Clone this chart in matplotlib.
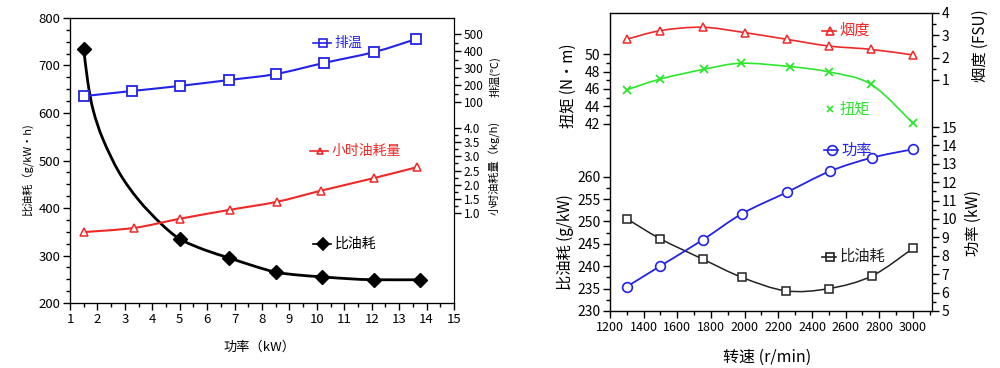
import numpy as np
import matplotlib
matplotlib.use('Agg')
import matplotlib.pyplot as plt
from matplotlib.path import Path
from matplotlib.patches import PathPatch
from matplotlib.ticker import MultipleLocator, FixedLocator

plt.rcParams['font.family'] = ['Liberation Sans Narrow', 'Noto Sans CJK SC', 'DejaVu Sans']
plt.rcParams['axes.unicode_minus'] = False

# ---- left panel data (x = 功率 kW) ----
sfc_x = [1.5, 5.0, 6.8, 8.5, 10.2, 12.1, 13.75]
sfc_y = [735, 335, 295, 265, 255, 249, 249]
# curve of 比油耗
sfc_curve_x = [1.5, 1.65, 1.85, 2.2, 2.8, 3.5, 4.3, 5.0, 5.9, 6.8, 7.7, 8.5, 9.3, 10.2, 11.2, 12.1, 13.75]
sfc_curve_y = [735, 665, 605, 545, 474, 417, 368, 335, 312, 295, 278, 265, 259, 255, 251, 249, 249]
temp_x = [1.5, 3.25, 5.0, 6.8, 8.5, 10.25, 12.1, 13.6]
temp_y = [135, 165, 195, 230, 265, 330, 395, 470]
fuel_x = [1.5, 3.35, 5.0, 6.85, 8.55, 10.15, 12.1, 13.65]
fuel_y = [0.33, 0.48, 0.80, 1.12, 1.40, 1.79, 2.24, 2.62]

# ---- right panel data (x = 转速 r/min) ----
smoke_x = [1300, 1500, 1750, 2000, 2250, 2500, 2750, 3000]
smoke_y = [2.82, 3.21, 3.36, 3.12, 2.82, 2.52, 2.37, 2.12]
torque_x = [1300, 1500, 1760, 1980, 2270, 2500, 2750, 3000]
torque_y = [45.9, 47.15, 48.27, 48.96, 48.57, 47.96, 46.54, 42.05]
power_x = [1300, 1500, 1750, 1985, 2250, 2505, 2755, 3000]
power_y = [6.32, 7.45, 8.86, 10.29, 11.45, 12.59, 13.33, 13.79]
bsfc_x = [1300, 1500, 1750, 1985, 2245, 2500, 2755, 3000]
bsfc_y = [250.6, 246.1, 241.6, 237.5, 234.5, 235.0, 237.8, 244.0]

BLUE = '#2323e6'
RED = '#f02828'
GREEN = '#2ee62e'


def smooth(ax, x, y, **kw):
    # Catmull-Rom curve drawn as bezier path through the points
    x = np.asarray(x, float)
    y = np.asarray(y, float)
    n = len(x)
    verts = [(x[0], y[0])]
    codes = [Path.MOVETO]
    for i in range(n - 1):
        x0, y0 = (x[i - 1], y[i - 1]) if i > 0 else (x[i], y[i])
        x3, y3 = (x[i + 2], y[i + 2]) if i + 2 < n else (x[i + 1], y[i + 1])
        c1 = (x[i] + (x[i + 1] - x0) / 6, y[i] + (y[i + 1] - y0) / 6)
        c2 = (x[i + 1] - (x3 - x[i]) / 6, y[i + 1] - (y3 - y[i]) / 6)
        verts += [c1, c2, (x[i + 1], y[i + 1])]
        codes += [Path.CURVE4] * 3
    ax.add_patch(PathPatch(Path(verts, codes), fill=False, **kw))


def key(ax, x, y, label, color, marker, ms, mfc='none', line=True, fs=10):
    if line:
        ax.plot([x - 0.025, x + 0.02], [y, y], color=color, lw=1.2, transform=ax.transAxes)
    ax.plot([x], [y], marker=marker, ms=ms, mfc=mfc, mec=color, mew=1.2,
            color=color, transform=ax.transAxes)
    ax.text(x + 0.03, y, label, color=color, fontsize=fs, va='center',
            transform=ax.transAxes, family=['Noto Sans CJK SC'])


def style_ticks(a, size):
    a.tick_params(which='major', direction='out', length=5, width=1, labelsize=size, pad=2)
    a.tick_params(which='minor', direction='out', length=3, width=1)


fig = plt.figure(figsize=(10, 3.68), dpi=100)

# ================= left panel =================
ax = fig.add_axes([0.070, 0.1766, 0.384, 0.7745])
ax.set_xlim(1, 15)
ax.set_ylim(200, 800)
ax.xaxis.set_major_locator(MultipleLocator(1))
ax.xaxis.set_minor_locator(MultipleLocator(0.5))
ax.yaxis.set_major_locator(MultipleLocator(100))
ax.yaxis.set_minor_locator(MultipleLocator(25))
style_ticks(ax, 9.5)
ax.tick_params(axis='y', which='both', right=False)

smooth(ax, sfc_curve_x, sfc_curve_y, color='black', lw=2.0, zorder=3)
ax.plot(sfc_x, sfc_y, ls='none', marker='D', ms=7, color='black', zorder=4)

ax_t = ax.twinx()
ax_t.set_ylim(-1083, 595)
ax_t.yaxis.set_major_locator(FixedLocator([100, 200, 300, 400, 500]))
ax_t.yaxis.set_minor_locator(FixedLocator([150, 250, 350, 450]))
style_ticks(ax_t, 8.5)
smooth(ax_t, temp_x, temp_y, color=BLUE, lw=1.5)
ax_t.plot(temp_x, temp_y, ls='none', marker='s', ms=6.5, mfc='white', mec=BLUE, mew=1.3)

ax_f = ax.twinx()
ax_f.set_ylim(-2.17, 7.88)
ax_f.yaxis.set_major_locator(FixedLocator([1.0, 1.5, 2.0, 2.5, 3.0, 3.5, 4.0]))
ax_f.yaxis.set_minor_locator(FixedLocator([1.25, 1.75, 2.25, 2.75, 3.25, 3.75]))
ax_f.yaxis.set_major_formatter(plt.FormatStrFormatter('%.1f'))
style_ticks(ax_f, 8.5)
smooth(ax_f, fuel_x, fuel_y, color=RED, lw=1.5)
ax_f.plot(fuel_x, fuel_y, ls='none', marker='^', ms=5.5, mfc='white', mec=RED, mew=1.1)
ax_t.spines['right'].set_visible(False)

key(ax, 0.659, 0.912, '排温', BLUE, 's', 5.5)
key(ax, 0.651, 0.533, '小时油耗量', RED, '^', 5)
key(ax, 0.659, 0.207, '比油耗', 'black', 'D', 6, mfc='black')

fig.text(0.028, 1 - 170 / 368, '比油耗（g/kW·h)', rotation=90, ha='center', va='center', fontsize=8,
         family=['Noto Sans CJK SC'])
fig.text(0.260, 1 - 347 / 368, '功率（kW）', ha='center', va='center', fontsize=9.5,
         family=['Noto Sans CJK SC'])
fig.text(0.495, 1 - 77 / 368, '排温(℃)', rotation=90, ha='center', va='center', fontsize=8,
         family=['Noto Sans CJK SC', 'DejaVu Sans'])
fig.text(0.495, 1 - 168 / 368, '小时油耗量（kg/h)', rotation=90, ha='center', va='center', fontsize=8,
         family=['Noto Sans CJK SC'])

# ================= right panel =================
bx = fig.add_axes([0.610, 0.155, 0.322, 0.8098])
bx.set_xlim(1200, 3113)
bx.set_ylim(230, 296.6)
bx.xaxis.set_major_locator(MultipleLocator(200))
bx.xaxis.set_minor_locator(MultipleLocator(100))
bx.yaxis.set_major_locator(FixedLocator([230, 235, 240, 245, 250, 255, 260]))
bx.yaxis.set_minor_locator(FixedLocator(np.arange(230, 261, 2.5)))
style_ticks(bx, 10)
bx.tick_params(axis='x', labelsize=9)
bx.tick_params(axis='y', which='both', right=False)
smooth(bx, bsfc_x, bsfc_y, color='#222222', lw=1.1)
bx.plot(bsfc_x, bsfc_y, ls='none', marker='s', ms=6, mfc='white', mec='#222222', mew=1.1)

bt = bx.twinx()
bt.set_ylim(20.4, 54.76)
bt.yaxis.set_ticks_position('left')
bt.yaxis.set_major_locator(FixedLocator([42, 44, 46, 48, 50]))
bt.yaxis.set_minor_locator(FixedLocator([43, 45, 47, 49]))
style_ticks(bt, 10)
smooth(bt, torque_x, torque_y, color=GREEN, lw=1.2)
bt.plot(torque_x, torque_y, ls='none', marker='x', ms=6, mec=GREEN, mew=1.3)

bs = bx.twinx()
bs.set_ylim(-9.34, 4)
bs.yaxis.set_major_locator(FixedLocator([1, 2, 3, 4]))
bs.yaxis.set_minor_locator(FixedLocator([1.5, 2.5, 3.5]))
style_ticks(bs, 10)
smooth(bs, smoke_x, smoke_y, color=RED, lw=1.2)
bs.plot(smoke_x, smoke_y, ls='none', marker='^', ms=6, mfc='white', mec=RED, mew=1.1)

bp = bx.twinx()
bp.set_ylim(5, 21.2)
bp.yaxis.set_major_locator(FixedLocator(range(5, 16)))
bp.yaxis.set_minor_locator(FixedLocator(np.arange(5.5, 15, 1.0)))
style_ticks(bp, 10)
smooth(bp, power_x, power_y, color=BLUE, lw=1.3)
bp.plot(power_x, power_y, ls='none', marker='o', ms=7, mfc='white', mec=BLUE, mew=1.2)
bs.spines['right'].set_visible(False)

key(bx, 0.683, 0.941, '烟度', RED, '^', 5.5, fs=11)
key(bx, 0.683, 0.677, '扭矩', GREEN, 'x', 5, line=False, fs=11)
key(bx, 0.689, 0.540, '功率', BLUE, 'o', 7, fs=11)
key(bx, 0.683, 0.182, '比油耗', '#222222', 's', 5.5, fs=11)

fig.text(0.568, 1 - 86 / 368, '扭矩 (N·m)', rotation=90, ha='center', va='center', fontsize=11,
         family=['Noto Sans CJK SC'])
fig.text(0.565, 1 - 242 / 368, '比油耗 (g/kW)', rotation=90, ha='center', va='center', fontsize=11,
         family=['Noto Sans CJK SC'])
fig.text(0.980, 1 - 46 / 368, '烟度 (FSU)', rotation=90, ha='center', va='center', fontsize=11,
         family=['Noto Sans CJK SC'])
fig.text(0.973, 1 - 223 / 368, '功率 (kW)', rotation=90, ha='center', va='center', fontsize=11,
         family=['Noto Sans CJK SC'])
fig.text(0.767, 1 - 357 / 368, '转速 (r/min)', ha='center', va='center', fontsize=11.5,
         family=['Noto Sans CJK SC'])

fig.savefig('out.png', dpi=100)
